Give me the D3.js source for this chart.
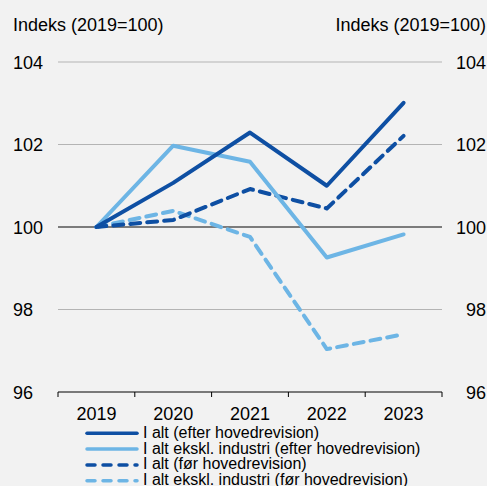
<!DOCTYPE html>
<html>
<head>
<meta charset="utf-8">
<script src="https://cdn.jsdelivr.net/npm/d3@7"></script>
<style>
  body { margin: 0; background: #f2f2f2; }
  svg { display: block; font-family: "Liberation Sans", Arial, sans-serif; }
</style>
</head>
<body>
<svg id="chart" width="487" height="486"></svg>
<script>
// data
const years = ["2019", "2020", "2021", "2022", "2023"];
const altEfter = [100, 101.07, 102.29, 101.0, 103.01];
const eksklEfter = [100, 101.97, 101.58, 99.26, 99.82];
const altFoer = [100, 100.17, 100.92, 100.45, 102.21];
const eksklFoer = [100, 100.39, 99.76, 97.04, 97.40];
const yTicks = [96, 98, 100, 102, 104];
const seriesNames = [
    "I alt (efter hovedrevision)",
    "I alt ekskl. industri (efter hovedrevision)",
    "I alt (før hovedrevision)",
    "I alt ekskl. industri (før hovedrevision)"
];

const dark = "#0e4fa3";
const light = "#6db5e5";

const series = [
    { name: seriesNames[0], values: altEfter, color: dark, dash: null },
    { name: seriesNames[1], values: eksklEfter, color: light, dash: null },
    { name: seriesNames[2], values: altFoer, color: dark, dash: "10,7" },
    { name: seriesNames[3], values: eksklFoer, color: light, dash: "10,7" }
];

const svg = d3.select("#chart");
const mLeft = 58, mRight = 442, mTop = 62, mBottom = 392;

const x = d3.scaleBand().domain(years).range([mLeft, mRight]);
const y = d3.scaleLinear().domain([96, 104]).range([mBottom, mTop]);

// gridlines
svg.append("g")
    .selectAll("line")
    .data(yTicks.filter(d => d !== 96))
    .join("line")
    .attr("x1", mLeft).attr("x2", mRight)
    .attr("y1", d => y(d)).attr("y2", d => y(d))
    .attr("stroke", d => d === 100 ? "#555" : "#b4b4b4")
    .attr("stroke-width", d => d === 100 ? 1.5 : 1);

// y labels both sides
svg.append("g").selectAll("text")
    .data(yTicks).join("text")
    .attr("x", 13).attr("y", d => y(d) + 6.5)
    .attr("font-size", 18).attr("fill", "#000")
    .text(d => d);
svg.append("g").selectAll("text")
    .data(yTicks).join("text")
    .attr("x", 486).attr("y", d => y(d) + 6.5)
    .attr("text-anchor", "end")
    .attr("font-size", 18).attr("fill", "#000")
    .text(d => d);

svg.append("text").attr("x", 13).attr("y", 31).attr("font-size", 18).text("Indeks (2019=100)");
svg.append("text").attr("x", 486).attr("y", 31).attr("text-anchor", "end").attr("font-size", 18).text("Indeks (2019=100)");

// x axis
const xAxis = svg.append("g")
    .attr("transform", `translate(0,${mBottom})`)
    .call(d3.axisBottom(x).tickSize(0).tickPadding(15));
xAxis.select(".domain").attr("stroke", "#000").attr("d", `M${mLeft},0H${mRight}`);
xAxis.selectAll("text").attr("font-size", 18).attr("font-family", "Liberation Sans, Arial, sans-serif").attr("fill", "#000");
svg.append("g").selectAll("line")
    .data(d3.range(years.length + 1)).join("line")
    .attr("x1", i => mLeft + i * x.step()).attr("x2", i => mLeft + i * x.step())
    .attr("y1", mBottom).attr("y2", mBottom + 5)
    .attr("stroke", "#000");

// lines
const line = d3.line()
    .x((d, i) => x(years[i]) + x.bandwidth() / 2)
    .y(d => y(d));

svg.append("g").selectAll("path")
    .data(series.slice().reverse()).join("path")
    .attr("d", d => line(d.values))
    .attr("fill", "none")
    .attr("stroke", d => d.color)
    .attr("stroke-width", 4)
    .attr("stroke-linecap", "round")
    .attr("stroke-linejoin", "round")
    .attr("stroke-dasharray", d => d.dash);

// legend
const legend = svg.append("g").selectAll("g")
    .data(series).join("g")
    .attr("transform", (d, i) => `translate(0,${433.3 + i * 15.8})`);
legend.append("line")
    .attr("x1", 87).attr("x2", 137)
    .attr("stroke", d => d.color)
    .attr("stroke-width", 3.5)
    .attr("stroke-linecap", "round")
    .attr("stroke-dasharray", d => d.dash ? "8,8" : null);
legend.append("text")
    .attr("x", 143).attr("y", 4.5)
    .attr("font-size", 16)
    .text(d => d.name);
</script>
</body>
</html>
